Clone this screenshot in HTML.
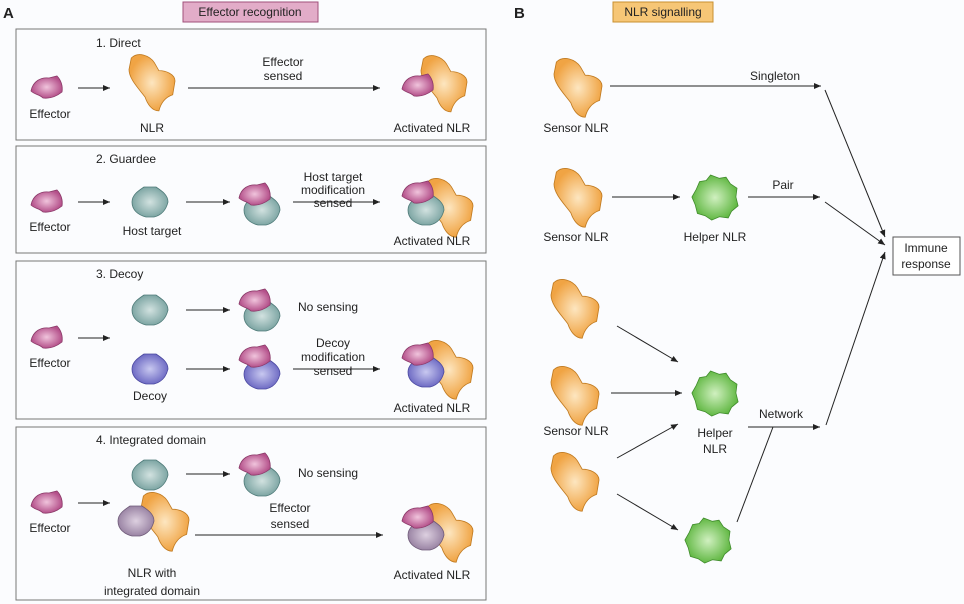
<!DOCTYPE html>
<html><head><meta charset="utf-8"><style>
body{margin:0;background:#fbfcfe}
svg{display:block}
text{font-family:"Liberation Sans",sans-serif;font-size:12px;fill:#222}
</style></head><body>
<svg width="964" height="604" viewBox="0 0 964 604" xmlns="http://www.w3.org/2000/svg">
<defs>
<radialGradient id="gp"><stop offset="0" stop-color="#f0c4dc"/><stop offset="1" stop-color="#b4508a"/></radialGradient>
<radialGradient id="go"><stop offset="0" stop-color="#fde6c0"/><stop offset="1" stop-color="#f0a444"/></radialGradient>
<radialGradient id="gt"><stop offset="0" stop-color="#d2e2e0"/><stop offset="1" stop-color="#7ea6a4"/></radialGradient>
<radialGradient id="gb"><stop offset="0" stop-color="#c8c8f0"/><stop offset="1" stop-color="#6f6cc4"/></radialGradient>
<radialGradient id="gg"><stop offset="0" stop-color="#d0f0c0"/><stop offset="1" stop-color="#62b844"/></radialGradient>
<radialGradient id="gm"><stop offset="0" stop-color="#ddd0e0"/><stop offset="1" stop-color="#9a84a4"/></radialGradient>
<marker id="ar" markerWidth="8" markerHeight="8" refX="7" refY="3" orient="auto" markerUnits="userSpaceOnUse"><path d="M0,0 L7,3 L0,6Z" fill="#222"/></marker>
<path id="eff" d="M-16,3 C-14,-7 -6,-11 2,-10 L10,-12 C14,-8 16,-2 15,4 C10,8 4,11 -4,10 C-8,6 -12,7 -16,3Z" fill="url(#gp)" stroke="#8a3a68" stroke-width="0.8"/>
<path id="nlr" d="M-18,-20 C-12,-26 -2,-22 2,-16 L6,-9 C12,-9 20,-6 20,0 L18,12 C12,14 8,18 6,26 C0,26 -4,20 -6,14 C-12,6 -20,-2 -20,-10Z" fill="url(#go)" stroke="#c07a20" stroke-width="0.7"/>
<path id="host" d="M-6,-15 L6,-15 C12,-11 18,-7 18,0 C16,8 12,13 4,15 L-4,15 C-12,13 -18,8 -18,0 C-18,-7 -12,-11 -6,-15Z" fill="url(#gt)" stroke="#4e7a78" stroke-width="0.8"/>
<path id="dec" d="M-6,-15 L6,-15 C12,-11 18,-7 18,0 C16,8 12,13 4,15 L-4,15 C-12,13 -18,8 -18,0 C-18,-7 -12,-11 -6,-15Z" fill="url(#gb)" stroke="#4a48a0" stroke-width="0.8"/>
<path id="mid" d="M-6,-15 L6,-15 C12,-11 18,-7 18,0 C16,8 12,13 4,15 L-4,15 C-12,13 -18,8 -18,0 C-18,-7 -12,-11 -6,-15Z" fill="url(#gm)" stroke="#6e5a78" stroke-width="0.8"/>
<path id="grn" d="M-4,-20 L4,-17 L10,-18 L14,-12 L20,-8 L19,0 L21,8 L15,13 L12,19 L4,18 L-3,21 L-9,17 L-16,15 L-18,7 L-21,0 L-17,-7 L-14,-14 L-8,-15Z" fill="url(#gg)" stroke="#3e8a2a" stroke-width="0.7"/>
</defs>

<text x="3" y="18" style="font-weight:bold;font-size:15px">A</text>
<rect x="183" y="2" width="135" height="20" fill="#e2acc8" stroke="#a0507a"/>
<text x="250" y="16" text-anchor="middle">Effector recognition</text>
<text x="514" y="18" style="font-weight:bold;font-size:15px">B</text>
<rect x="613" y="2" width="100" height="20" fill="#f6c676" stroke="#c89030"/>
<text x="663" y="16" text-anchor="middle">NLR signalling</text>

<g fill="none" stroke="#777" stroke-width="1">
<rect x="16" y="29" width="470" height="111"/>
<rect x="16" y="146" width="470" height="107"/>
<rect x="16" y="261" width="470" height="158"/>
<rect x="16" y="427" width="470" height="173"/>
</g>

<g stroke="#222" stroke-width="1" marker-end="url(#ar)">
<line x1="78" y1="88" x2="110" y2="88"/><line x1="188" y1="88" x2="380" y2="88"/>
<line x1="78" y1="202" x2="110" y2="202"/><line x1="186" y1="202" x2="230" y2="202"/><line x1="293" y1="202" x2="380" y2="202"/>
<line x1="78" y1="338" x2="110" y2="338"/><line x1="186" y1="310" x2="230" y2="310"/><line x1="186" y1="369" x2="230" y2="369"/><line x1="293" y1="369" x2="380" y2="369"/>
<line x1="78" y1="503" x2="110" y2="503"/><line x1="186" y1="474" x2="230" y2="474"/><line x1="195" y1="535" x2="383" y2="535"/>
<line x1="610" y1="86" x2="821" y2="86"/><line x1="612" y1="197" x2="680" y2="197"/><line x1="748" y1="197" x2="820" y2="197"/>
<line x1="617" y1="326" x2="678" y2="362"/><line x1="611" y1="393" x2="682" y2="393"/><line x1="617" y1="458" x2="678" y2="424"/><line x1="617" y1="494" x2="678" y2="530"/>
<line x1="748" y1="427" x2="820" y2="427"/>
<line x1="825" y1="90" x2="885" y2="237"/><line x1="825" y1="202" x2="885" y2="245"/><line x1="826" y1="425" x2="885" y2="252"/>
</g>
<line x1="737" y1="522" x2="773" y2="427" stroke="#222"/>

<!-- Box 1 -->
<text x="96" y="47">1. Direct</text>
<use href="#eff" x="47" y="88"/><text x="50" y="118" text-anchor="middle">Effector</text>
<use href="#nlr" transform="translate(152,81) scale(1.15)"/><text x="152" y="132" text-anchor="middle">NLR</text>
<text x="283" y="66" text-anchor="middle">Effector</text><text x="283" y="80" text-anchor="middle">sensed</text>
<use href="#nlr" transform="translate(444,82) scale(1.15)"/><use href="#eff" x="418" y="86"/>
<text x="432" y="132" text-anchor="middle">Activated NLR</text>

<!-- Box 2 -->
<text x="96" y="163">2. Guardee</text>
<use href="#eff" x="47" y="202"/><text x="50" y="231" text-anchor="middle">Effector</text>
<use href="#host" x="150" y="202"/><text x="152" y="235" text-anchor="middle">Host target</text>
<use href="#host" x="262" y="210"/><use href="#eff" x="255" y="195"/>
<text x="333" y="181" text-anchor="middle">Host target</text><text x="333" y="194" text-anchor="middle">modification</text><text x="333" y="207" text-anchor="middle">sensed</text>
<use href="#nlr" transform="translate(449,206) scale(1.2)"/><use href="#host" x="426" y="210"/><use href="#eff" x="418" y="193"/>
<text x="432" y="245" text-anchor="middle">Activated NLR</text>

<!-- Box 3 -->
<text x="96" y="278">3. Decoy</text>
<use href="#eff" x="47" y="338"/><text x="50" y="367" text-anchor="middle">Effector</text>
<use href="#host" x="150" y="310"/>
<use href="#host" x="262" y="316"/><use href="#eff" x="255" y="301"/>
<text x="298" y="311">No sensing</text>
<use href="#dec" x="150" y="369"/><text x="150" y="400" text-anchor="middle">Decoy</text>
<use href="#dec" x="262" y="374"/><use href="#eff" x="255" y="357"/>
<text x="333" y="347" text-anchor="middle">Decoy</text><text x="333" y="361" text-anchor="middle">modification</text><text x="333" y="375" text-anchor="middle">sensed</text>
<use href="#nlr" transform="translate(449,368) scale(1.2)"/><use href="#dec" x="426" y="372"/><use href="#eff" x="418" y="355"/>
<text x="432" y="412" text-anchor="middle">Activated NLR</text>

<!-- Box 4 -->
<text x="96" y="444">4. Integrated domain</text>
<use href="#eff" x="47" y="503"/><text x="50" y="532" text-anchor="middle">Effector</text>
<use href="#host" x="150" y="475"/>
<use href="#host" x="262" y="481"/><use href="#eff" x="255" y="465"/>
<text x="298" y="477">No sensing</text>
<use href="#nlr" transform="translate(165,520) scale(1.2)"/><use href="#mid" x="136" y="521"/>
<text x="152" y="577" text-anchor="middle">NLR with</text><text x="152" y="595" text-anchor="middle">integrated domain</text>
<text x="290" y="512" text-anchor="middle">Effector</text><text x="290" y="528" text-anchor="middle">sensed</text>
<use href="#nlr" transform="translate(449,531) scale(1.2)"/><use href="#mid" x="426" y="535"/><use href="#eff" x="418" y="518"/>
<text x="432" y="579" text-anchor="middle">Activated NLR</text>

<!-- Panel B -->
<use href="#nlr" transform="translate(578,86) scale(1.2)"/><text x="576" y="132" text-anchor="middle">Sensor NLR</text>
<text x="775" y="80" text-anchor="middle">Singleton</text>
<use href="#nlr" transform="translate(578,196) scale(1.2)"/><text x="576" y="241" text-anchor="middle">Sensor NLR</text>
<use href="#grn" transform="translate(715,197) scale(1.1)"/><text x="715" y="241" text-anchor="middle">Helper NLR</text>
<text x="783" y="189" text-anchor="middle">Pair</text>
<use href="#nlr" transform="translate(575,307) scale(1.2)"/>
<use href="#nlr" transform="translate(575,394) scale(1.2)"/><text x="576" y="435" text-anchor="middle">Sensor NLR</text>
<use href="#nlr" transform="translate(575,480) scale(1.2)"/>
<use href="#grn" transform="translate(715,393) scale(1.1)"/><text x="715" y="437" text-anchor="middle">Helper</text><text x="715" y="453" text-anchor="middle">NLR</text>
<use href="#grn" transform="translate(708,540) scale(1.1)"/>
<text x="781" y="418" text-anchor="middle">Network</text>
<rect x="893" y="237" width="67" height="38" fill="#fff" stroke="#555"/>
<text x="926" y="252" text-anchor="middle">Immune</text><text x="926" y="268" text-anchor="middle">response</text>
</svg>
</body></html>
